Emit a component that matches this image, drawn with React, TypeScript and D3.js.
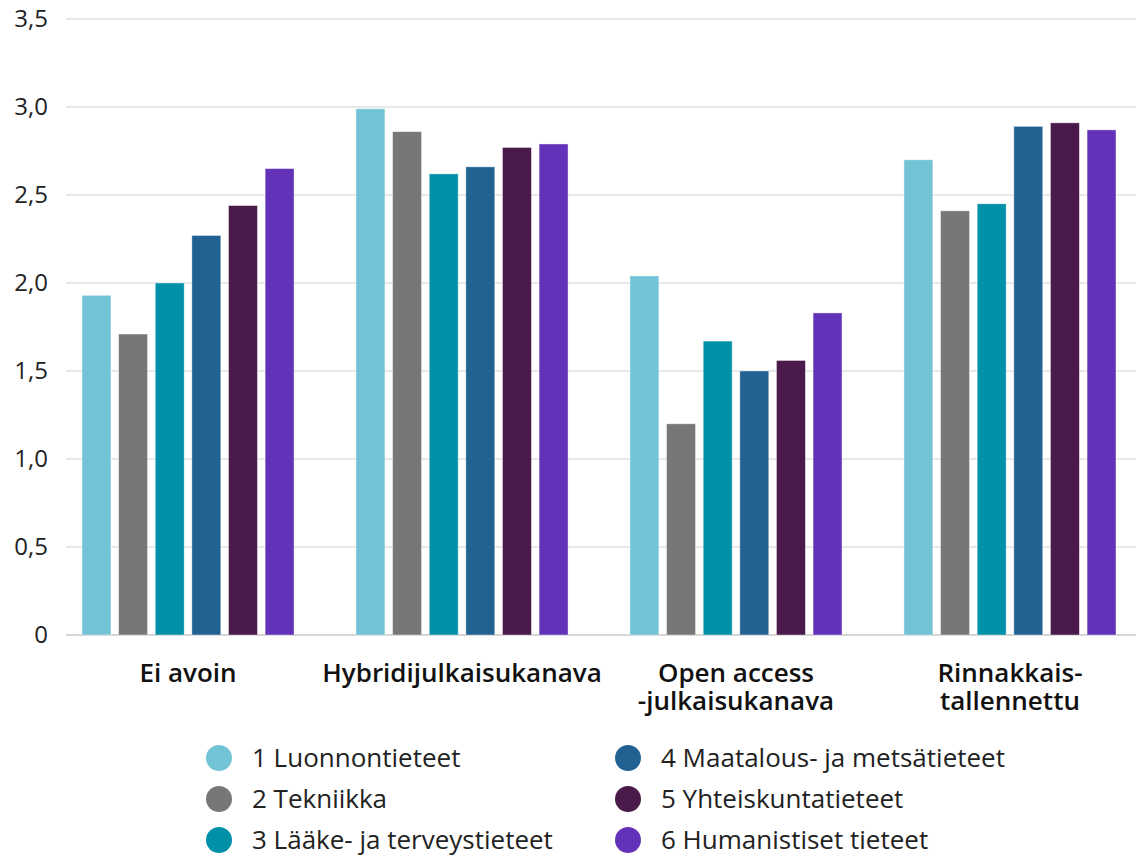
import React from 'react';
import * as d3 from 'd3';

const categories = [
  ['Ei avoin'],
  ['Hybridijulkaisukanava'],
  ['Open access', '-julkaisukanava'],
  ['Rinnakkais-', 'tallennettu'],
];
const fields = [
  '1 Luonnontieteet',
  '2 Tekniikka',
  '3 Lääke- ja terveystieteet',
  '4 Maatalous- ja metsätieteet',
  '5 Yhteiskuntatieteet',
  '6 Humanistiset tieteet',
];
const colors = ['#72c3d5', '#777777', '#0090a8', '#226292', '#4a1a4a', '#6233b9'];
// values per category, in field order
const eiAvoin = [1.93, 1.71, 2.0, 2.27, 2.44, 2.65];
const hybridi = [2.99, 2.86, 2.62, 2.66, 2.77, 2.79];
const openAccess = [2.04, 1.2, 1.67, 1.5, 1.56, 1.83];
const rinnakkais = [2.7, 2.41, 2.45, 2.89, 2.91, 2.87];
const series = [eiAvoin, hybridi, openAccess, rinnakkais];
const yTicks = [0, 0.5, 1, 1.5, 2, 2.5, 3, 3.5];

const W = 1136;
const H = 856;
const font = '"Open Sans", sans-serif';

export default function App() {
  const y = d3.scaleLinear().domain([0, 3.5]).range([635, 19]);
  const x0 = d3.scaleBand<number>()
    .domain(d3.range(categories.length))
    .range([82, 1116])
    .paddingInner(0.226)
    .paddingOuter(0);
  const x1 = d3.scaleBand<number>()
    .domain(d3.range(fields.length))
    .range([0, x0.bandwidth()])
    .paddingInner(0.21)
    .paddingOuter(0);
  const fmt = (v: number) => (v === 0 ? '0' : d3.format('.1f')(v).replace('.', ','));

  return (
    <svg width={W} height={H} style={{ position: 'absolute', left: 0, top: 0, background: '#fff' }}
      fontFamily={font}>
      {yTicks.map(t => (
        <g key={t}>
          <line x1={66} x2={W} y1={y(t)} y2={y(t)} stroke={t === 0 ? '#d6d6d6' : '#e0e0e0'}
            strokeWidth={t === 0 ? 2 : 1.5} />
          <text x={48} y={y(t)} dy="0.35em" textAnchor="end" fontSize={24} fill="#222">
            {fmt(t)}
          </text>
        </g>
      ))}
      {series.map((vals, ci) => (
        <g key={ci} transform={`translate(${x0(ci)},0)`}>
          {vals.map((v, fi) => (
            <rect key={fi} x={x1(fi)} y={y(v)} width={x1.bandwidth()} height={y(0) - y(v)}
              fill={colors[fi]} stroke="#fff" strokeOpacity={0.5} strokeWidth={0.8} />
          ))}
        </g>
      ))}
      {categories.map((lines, ci) => (
        <text key={ci} x={(x0(ci) as number) + x0.bandwidth() / 2} y={682} textAnchor="middle"
          fontSize={26} fontWeight={600} fill="#111">
          {lines.map((l, li) => (
            <tspan key={li} x={(x0(ci) as number) + x0.bandwidth() / 2} dy={li === 0 ? 0 : 28}>{l}</tspan>
          ))}
        </text>
      ))}
      {fields.map((f, i) => {
        const col = Math.floor(i / 3);
        const row = i % 3;
        const cx = col === 0 ? 219 : 628;
        const cy = 758 + row * 41;
        return (
          <g key={f}>
            <circle cx={cx} cy={cy} r={13} fill={colors[i]} />
            <text x={cx + 33} y={cy} dy="0.35em" fontSize={26} fill="#222">{f}</text>
          </g>
        );
      })}
    </svg>
  );
}
